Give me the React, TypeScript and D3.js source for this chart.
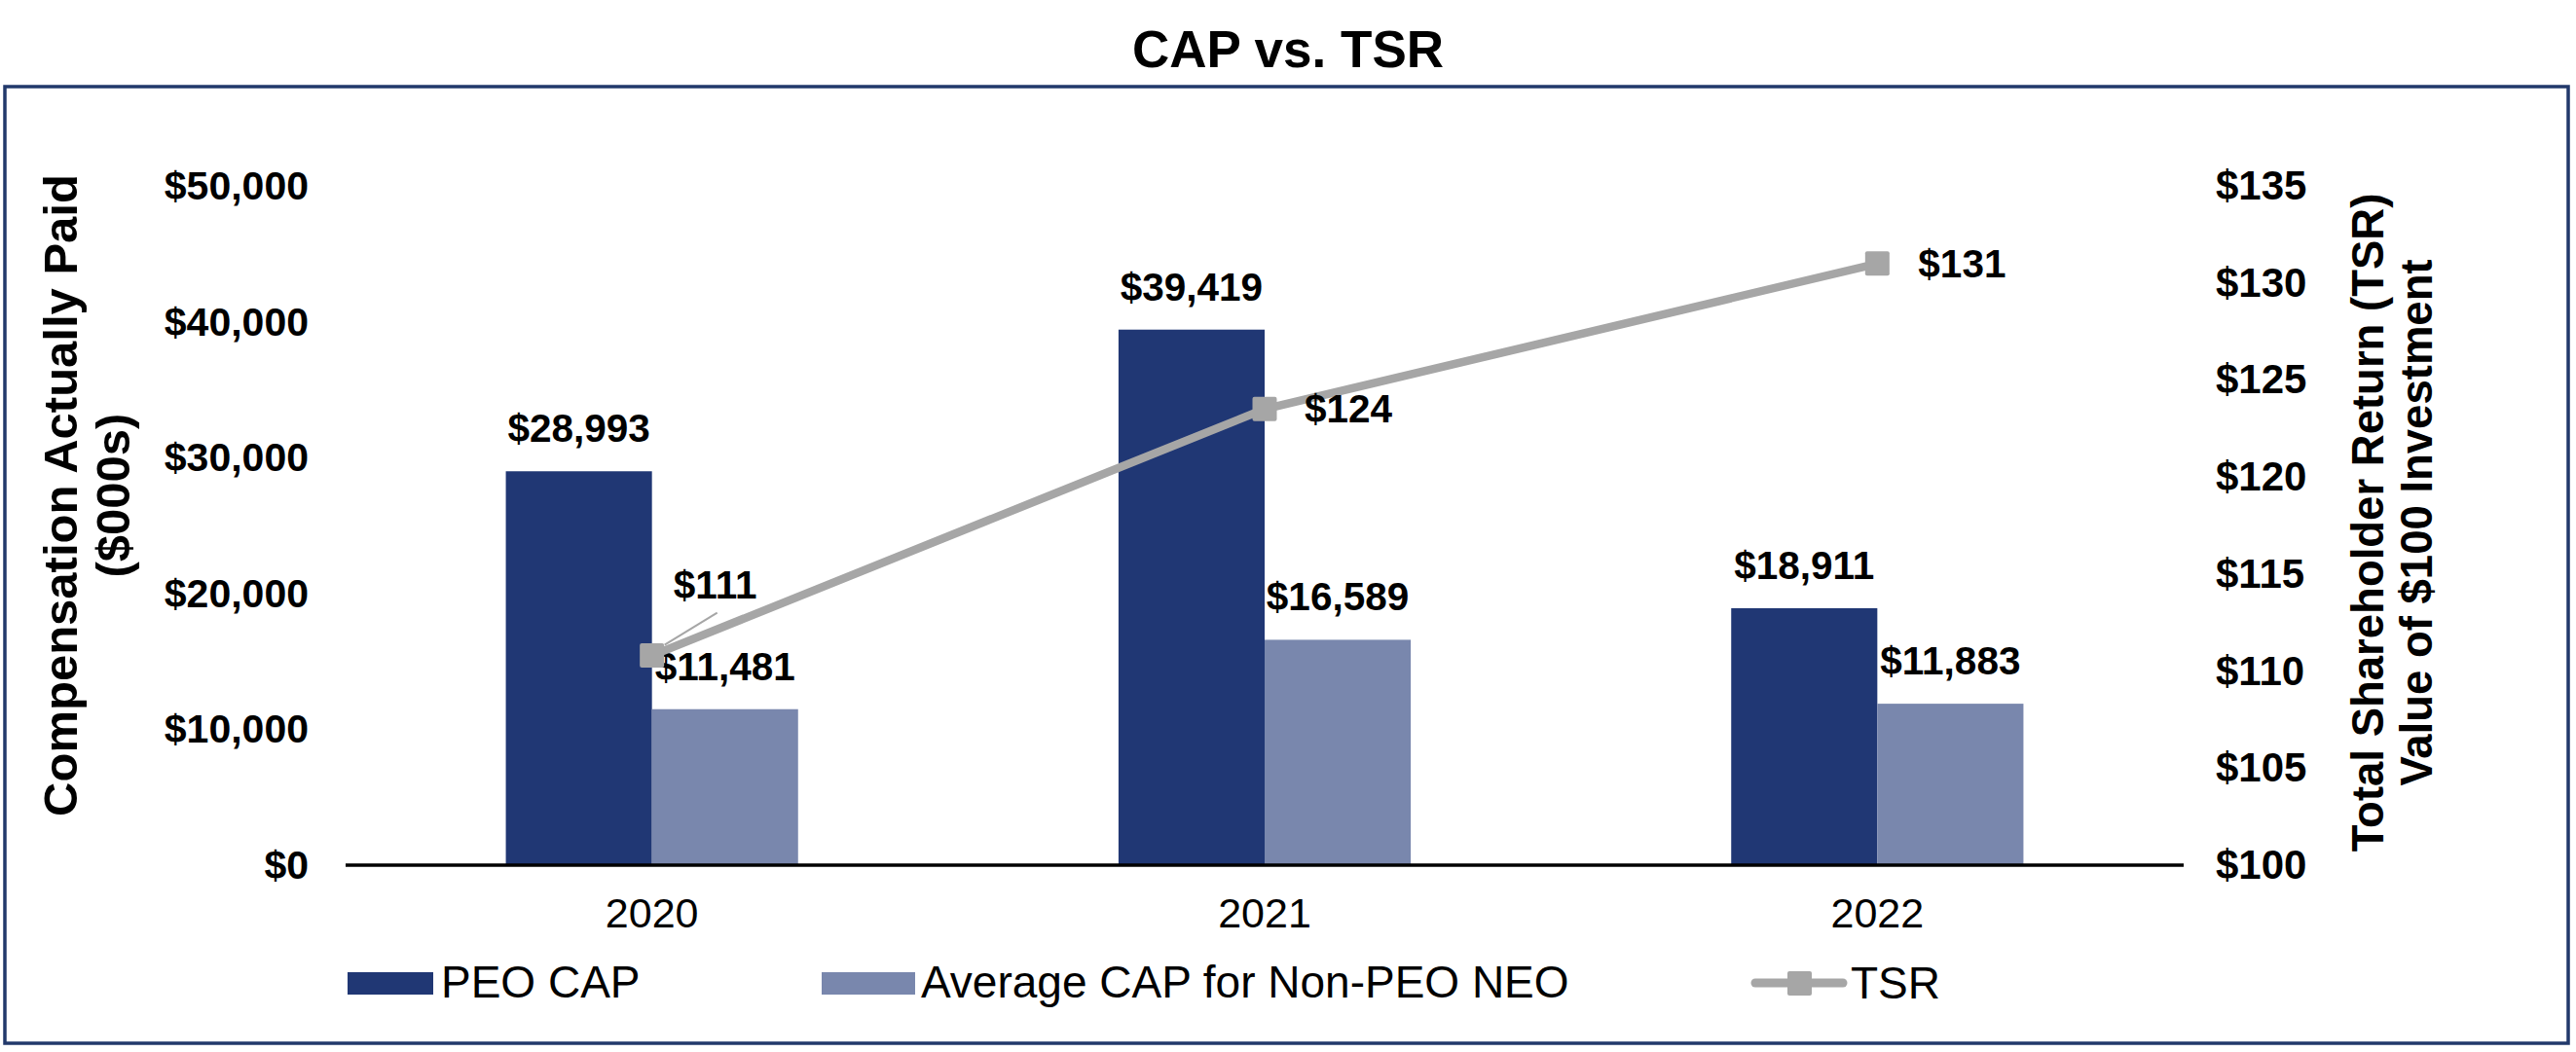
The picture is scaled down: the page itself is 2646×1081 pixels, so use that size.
import React from "react";
import * as d3 from "d3";

const years = ["2020", "2021", "2022"];
const peoCap = [28993, 39419, 18911];
const avgCap = [11481, 16589, 11883];
const tsr = [110.8, 123.5, 131];
const tsrLabels = ["$111", "$124", "$131"];
const leftTicks = [0, 10000, 20000, 30000, 40000, 50000];
const rightTicks = [100, 105, 110, 115, 120, 125, 130, 135];
const seriesNames = ["PEO CAP", "Average CAP for Non-PEO NEO", "TSR"];

const W = 2646;
const H = 1081;
const FONT = "'Liberation Sans', Arial, Helvetica, sans-serif";
const C_PEO = "#203774";
const C_AVG = "#7987AD";
const C_TSR = "#A6A6A6";
const C_BORDER = "#22396B";

export default function App() {
  const x = d3
    .scaleBand<string>()
    .domain(years)
    .range([355, 2243])
    .paddingInner(0.523)
    .paddingOuter(0.2615);
  const xs = d3.scaleBand<string>().domain(["peo", "avg"]).range([0, x.bandwidth()]);
  const yL = d3.scaleLinear().domain([0, 50000]).range([889, 191]);
  const yR = d3.scaleLinear().domain([100, 135]).range([889, 191]);
  const fmt = (v: number) => "$" + d3.format(",")(v);
  const cx = (y: string) => (x(y) as number) + x.bandwidth() / 2;

  const line = d3
    .line<number>()
    .x((_, i) => cx(years[i]))
    .y((d) => yR(d));

  const bars: { key: string; vals: number[]; color: string }[] = [
    { key: "peo", vals: peoCap, color: C_PEO },
    { key: "avg", vals: avgCap, color: C_AVG },
  ];

  const tsrPts = tsr.map((v, i) => [cx(years[i]), yR(v)] as [number, number]);

  return (
    <svg
      width={W}
      height={H}
      style={{ position: "absolute", left: 0, top: 0, background: "#fff" }}
      fontFamily={FONT}
    >
      <rect x={0} y={0} width={W} height={H} fill="#fff" />
      <text x={1323} y={69} textAnchor="middle" fontSize={53} fontWeight="bold" fill="#000">
        CAP vs. TSR
      </text>
      <rect x={5} y={89} width={2633} height={983} fill="none" stroke={C_BORDER} strokeWidth={3.5} />

      {/* left axis ticks */}
      {leftTicks.map((t) => (
        <text key={"l" + t} x={317} y={yL(t) + 14} textAnchor="end" fontSize={41} fontWeight="bold">
          {fmt(t)}
        </text>
      ))}
      {/* right axis ticks */}
      {rightTicks.map((t) => (
        <text key={"r" + t} x={2276} y={yR(t) + 14} textAnchor="start" fontSize={42} fontWeight="bold">
          {"$" + t}
        </text>
      ))}

      {/* axis titles */}
      <text transform="translate(62,509) rotate(-90)" textAnchor="middle" fontSize={49} fontWeight="bold">
        <tspan x={0} dy={17}>Compensation Actually Paid</tspan>
        <tspan x={0} dy={54}>($000s)</tspan>
      </text>
      <text transform="translate(2432,537) rotate(-90)" textAnchor="middle" fontSize={45.5} fontWeight="bold">
        <tspan x={0} dy={16}>Total Shareholder Return (TSR)</tspan>
        <tspan x={0} dy={50}>Value of $100 Investment</tspan>
      </text>

      {/* bars */}
      {bars.map((s) =>
        s.vals.map((v, i) => {
          const bx = (x(years[i]) as number) + (xs(s.key) as number);
          return (
            <rect
              key={s.key + i}
              x={bx}
              y={yL(v)}
              width={xs.bandwidth()}
              height={yL(0) - yL(v)}
              fill={s.color}
            />
          );
        })
      )}

      {/* baseline */}
      <line x1={355} x2={2243} y1={yL(0)} y2={yL(0)} stroke="#000" strokeWidth={3.5} />

      {/* bar labels */}
      {bars.map((s) =>
        s.vals.map((v, i) => {
          const bx = (x(years[i]) as number) + (xs(s.key) as number) + xs.bandwidth() / 2;
          return (
            <text
              key={"bl" + s.key + i}
              x={bx}
              y={yL(v) - 30}
              textAnchor="middle"
              fontSize={40.5}
              fontWeight="bold"
            >
              {fmt(v)}
            </text>
          );
        })
      )}

      {/* TSR line */}
      <path d={line(tsr) || ""} fill="none" stroke={C_TSR} strokeWidth={8.5} />
      {tsrPts.map(([px, py], i) => (
        <rect key={"m" + i} x={px - 12.5} y={py - 12.5} width={25} height={25} rx={2} fill={C_TSR} />
      ))}

      {/* TSR labels */}
      <line
        x1={tsrPts[0][0] + 13}
        y1={tsrPts[0][1] - 11}
        x2={tsrPts[0][0] + 67}
        y2={tsrPts[0][1] - 44}
        stroke={C_TSR}
        strokeWidth={2}
      />
      <text x={tsrPts[0][0] + 65} y={tsrPts[0][1] - 59} textAnchor="middle" fontSize={40.5} fontWeight="bold">
        {tsrLabels[0]}
      </text>
      <text x={tsrPts[1][0] + 41} y={tsrPts[1][1] + 14} textAnchor="start" fontSize={40.5} fontWeight="bold">
        {tsrLabels[1]}
      </text>
      <text x={tsrPts[2][0] + 42} y={tsrPts[2][1] + 14} textAnchor="start" fontSize={40.5} fontWeight="bold">
        {tsrLabels[2]}
      </text>

      {/* category labels */}
      {years.map((yv) => (
        <text key={"c" + yv} x={cx(yv)} y={953} textAnchor="middle" fontSize={43}>
          {yv}
        </text>
      ))}

      {/* legend */}
      <rect x={357} y={999} width={88} height={23} fill={C_PEO} />
      <text x={453} y={1025} fontSize={46}>{seriesNames[0]}</text>
      <rect x={844} y={999} width={96} height={23} fill={C_AVG} />
      <text x={946} y={1025} fontSize={46}>{seriesNames[1]}</text>
      <line x1={1803} x2={1893} y1={1010} y2={1010} stroke={C_TSR} strokeWidth={9} strokeLinecap="round" />
      <rect x={1836} y={998} width={25} height={25} rx={2} fill={C_TSR} />
      <text x={1901} y={1026} fontSize={46}>{seriesNames[2]}</text>
    </svg>
  );
}
